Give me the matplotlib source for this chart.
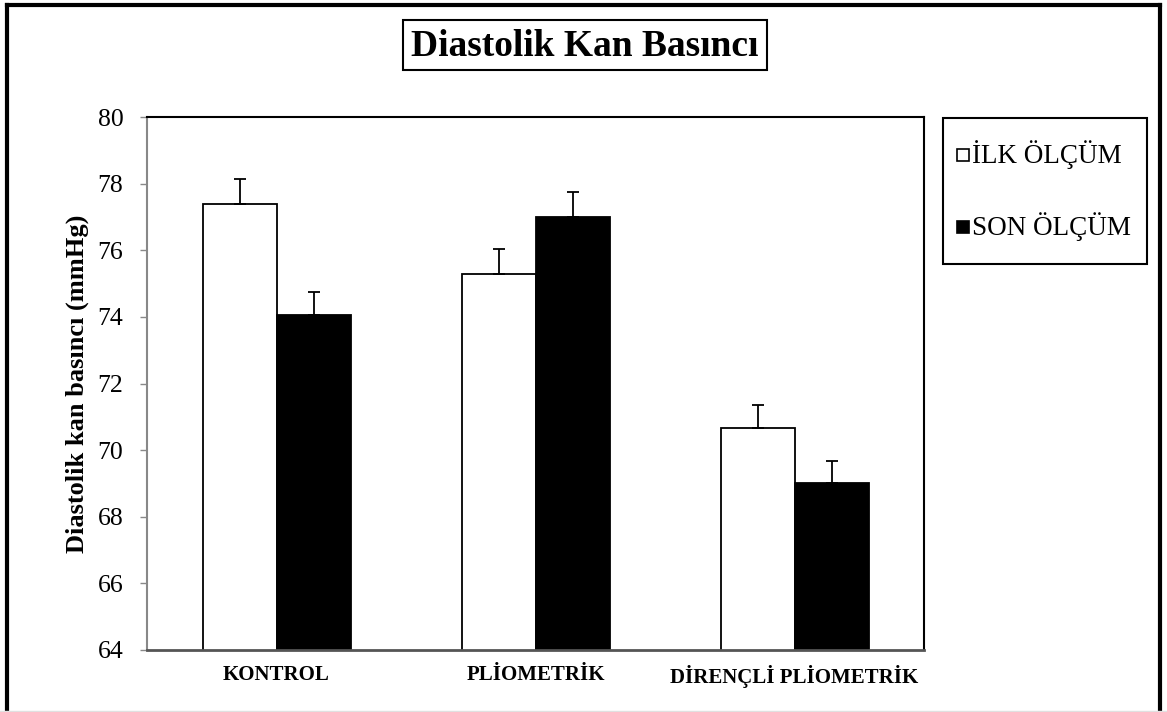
import matplotlib.pyplot as plt
from matplotlib.patches import Rectangle
from matplotlib.lines import Line2D
import numpy as np

plt.rcParams['font.family'] = ['Liberation Serif', 'DejaVu Serif']

groups = ['KONTROL', 'PLİOMETRİK', 'DİRENÇLİ PLİOMETRİK']
ilk_olcum = [77.4, 75.3, 70.65]
son_olcum = [74.05, 77.0, 69.0]
ilk_err = [0.75, 0.73, 0.70]
son_err = [0.71, 0.75, 0.67]
series_labels = ['İLK ÖLÇÜM', 'SON ÖLÇÜM']
y_ticks = [64, 66, 68, 70, 72, 74, 76, 78, 80]

W, H = 1167, 712
fig = plt.figure(figsize=(W / 100, H / 100), dpi=100)
ax = fig.add_axes([147 / W, 1 - 650 / H, (924 - 147) / W, (650 - 117) / H])

x = np.arange(len(groups))
bw = 2 / 7
err_kw = dict(ecolor='black', elinewidth=1.3, capsize=4.5, capthick=1.3)
ax.bar(x - bw / 2, ilk_olcum, bw, color='white', edgecolor='black', linewidth=1.3,
       yerr=[np.zeros(3), ilk_err], error_kw=err_kw, zorder=2)
ax.bar(x + bw / 2, son_olcum, bw, color='black', edgecolor='black', linewidth=1.3,
       yerr=[np.zeros(3), son_err], error_kw=err_kw, zorder=2)

ax.set_xlim(-0.5, 2.5)
ax.set_ylim(64, 80)
ax.set_yticks(y_ticks)
ax.set_yticklabels([str(t) for t in y_ticks], fontsize=18.5)
ax.tick_params(axis='y', direction='out', length=5, width=1, color='#888888', pad=12)
ax.set_xticks(x)
ax.set_xticklabels(groups, fontsize=15, fontweight='bold')
ax.tick_params(axis='x', length=0, pad=11)

ax.spines['left'].set_color('#888888')
ax.spines['left'].set_linewidth(1.5)
ax.spines['bottom'].set_color('#555555')
ax.spines['bottom'].set_linewidth(2)
for side in ('top', 'right'):
    ax.spines[side].set_color('black')
    ax.spines[side].set_linewidth(1.5)

ax.set_ylabel('Diastolik kan basıncı (mmHg)', fontsize=19, fontweight='bold')
ax.yaxis.set_label_coords(-58 / 777, 0.5)

# title in a plain box
fig.text(585 / W, 1 - 46 / H, 'Diastolik Kan Basıncı', fontsize=27, fontweight='bold',
         ha='center', va='center')
fig.add_artist(Rectangle((403 / W, 1 - 70 / H), 364 / W, 50 / H, transform=fig.transFigure,
                         fill=False, edgecolor='black', linewidth=1.5))

# legend drawn by hand
fig.add_artist(Rectangle((943 / W, 1 - 264 / H), 204 / W, 146 / H, transform=fig.transFigure,
                         fill=False, edgecolor='black', linewidth=1.5))
for i, (lab, fc) in enumerate(zip(series_labels, ['white', 'black'])):
    yc = 155 + i * 72
    fig.add_artist(Rectangle((957 / W, 1 - (yc + 6) / H), 12 / W, 12 / H,
                             transform=fig.transFigure, facecolor=fc,
                             edgecolor='black', linewidth=1.2))
    fig.text(972 / W, 1 - yc / H, lab, fontsize=19.5, ha='left', va='center')

# outer frame
lw = 3
fig.add_artist(Line2D([7 / W, 7 / W], [0, 1 - 5 / H], transform=fig.transFigure,
                      color='black', linewidth=lw))
fig.add_artist(Line2D([7 / W, 1160 / W], [1 - 5 / H, 1 - 5 / H], transform=fig.transFigure,
                      color='black', linewidth=lw, solid_capstyle='projecting'))
fig.add_artist(Line2D([1160 / W, 1160 / W], [0, 1 - 5 / H], transform=fig.transFigure,
                      color='black', linewidth=lw))
fig.add_artist(Line2D([0, 1], [1.5 / H, 1.5 / H], transform=fig.transFigure,
                      color='#e0e0e0', linewidth=1))

fig.savefig('out.png', dpi=100)
